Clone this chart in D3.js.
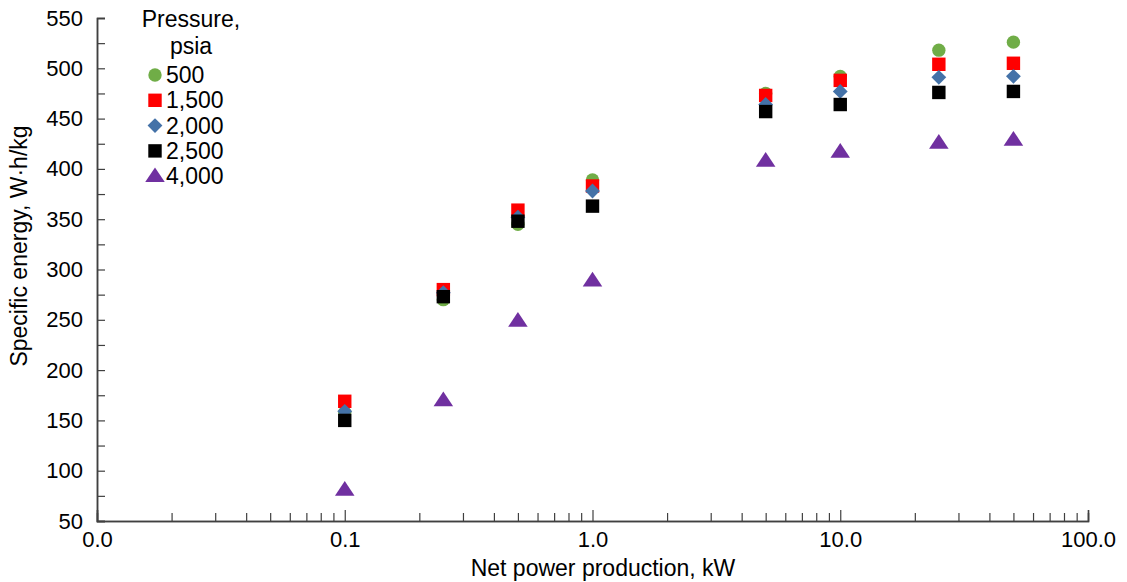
<!DOCTYPE html>
<html>
<head>
<meta charset="utf-8">
<script src="https://cdn.jsdelivr.net/npm/d3@7"></script>
<style>
  body { margin: 0; background: #fff; }
  svg { display: block; font-family: "Liberation Sans", Arial, sans-serif; }
</style>
</head>
<body>
<svg id="chart" width="1127" height="582"></svg>
<script>
const powerKW = [0.1, 0.25, 0.5, 1, 5, 10, 25, 50];
const p500  = [158, 270, 345, 389, 475, 492, 518, 526];
const p1500 = [169, 280, 359, 383, 473, 488, 504, 505];
const p2000 = [159, 277, 352, 378, 464, 477, 491, 492];
const p2500 = [150, 273, 348, 363, 457, 464, 476, 477];
const p4000 = [81, 170, 249, 289, 408, 417, 426, 429];
const seriesNames = ["500", "1,500", "2,000", "2,500", "4,000"];
const seriesColors = ["#70ad47", "#ff0000", "#4472a8", "#000000", "#7030a0"];
const seriesShapes = ["circle", "square", "diamond", "square", "triangle"];
const xTickValues = [0.01, 0.1, 1, 10, 100];
const yTickValues = [50, 100, 150, 200, 250, 300, 350, 400, 450, 500, 550];
const seriesValues = [p500, p1500, p2000, p2500, p4000];

const svg = d3.select("#chart");
const m = { left: 97, right: 1088, top: 18, bottom: 521 };
const x = d3.scaleLog().domain([0.01, 100]).range([m.left, m.right]);
const y = d3.scaleLinear().domain([50, 550]).range([m.bottom, m.top]);
const axisColor = "#404040";
const tickFont = 22, titleFont = 23;

// minor x ticks
const xMinor = [];
[0.01, 0.1, 1, 10].forEach(d => { for (let k = 2; k <= 9; k++) xMinor.push(d * k); });
const xAxisMinor = d3.axisBottom(x).tickValues(xMinor).tickSize(-8).tickFormat("");
const xAxis = d3.axisBottom(x).tickValues(xTickValues).tickSize(-11).tickPadding(10)
  .tickFormat(d3.format(".1f"));

const gxm = svg.append("g").attr("transform", `translate(0,${m.bottom})`).call(xAxisMinor);
const gx = svg.append("g").attr("transform", `translate(0,${m.bottom})`).call(xAxis);
[gxm, gx].forEach(g => {
  g.select(".domain").attr("stroke", axisColor).attr("stroke-width", 1.5);
  g.selectAll(".tick line").attr("stroke", axisColor).attr("stroke-width", 1.2);
});
gx.selectAll(".tick text").attr("font-size", tickFont).attr("fill", "#000")
  .attr("font-family", "Liberation Sans, Arial, sans-serif");

const yMinor = d3.range(75, 550, 50);
const yAxisMinor = d3.axisLeft(y).tickValues(yMinor).tickSize(-8).tickFormat("");
const yAxis = d3.axisLeft(y).tickValues(yTickValues).tickSize(-8).tickPadding(14);
const gym = svg.append("g").attr("transform", `translate(${m.left},0)`).call(yAxisMinor);
const gy = svg.append("g").attr("transform", `translate(${m.left},0)`).call(yAxis);
[gym, gy].forEach(g => {
  g.select(".domain").attr("stroke", axisColor).attr("stroke-width", 1.5);
  g.selectAll(".tick line").attr("stroke", axisColor).attr("stroke-width", 1.2);
});
gy.selectAll(".tick text").attr("font-size", tickFont).attr("fill", "#000")
  .attr("font-family", "Liberation Sans, Arial, sans-serif");

// axis titles
svg.append("text").attr("x", 603).attr("y", 576)
  .attr("text-anchor", "middle").attr("font-size", titleFont).text("Net power production, kW");
svg.append("text").attr("transform", `translate(27,246) rotate(-90)`)
  .attr("text-anchor", "middle").attr("font-size", titleFont).text("Specific energy, W·h/kg");

const sym = {
  circle: d3.symbol().type(d3.symbolCircle).size(140),
  square: d3.symbol().type(d3.symbolSquare).size(180),
  diamond: d3.symbol().type(d3.symbolSquare).size(110),
  triangle: d3.symbol().type(d3.symbolTriangle).size(125)
};
function drawMarker(g, shape, color, cx, cy) {
  const p = g.append("path").attr("d", sym[shape]()).attr("fill", color);
  if (shape === "diamond") p.attr("transform", `translate(${cx},${cy}) rotate(45)`);
  else if (shape === "triangle") p.attr("transform", `translate(${cx},${cy + 1}) scale(1.15,1)`);
  else p.attr("transform", `translate(${cx},${cy})`);
}

const plot = svg.append("g");
seriesValues.forEach((vals, si) => {
  vals.forEach((v, i) => drawMarker(plot, seriesShapes[si], seriesColors[si], x(powerKW[i]), y(v)));
});

// legend
const lg = svg.append("g");
lg.append("text").attr("x", 191).attr("y", 27).attr("text-anchor", "middle").attr("font-size", titleFont).text("Pressure,");
lg.append("text").attr("x", 191).attr("y", 54).attr("text-anchor", "middle").attr("font-size", titleFont).text("psia");
seriesNames.forEach((name, i) => {
  const cy = 75 + i * 25.3;
  drawMarker(lg, seriesShapes[i], seriesColors[i], 155, cy);
  lg.append("text").attr("x", 166).attr("y", cy + 8).attr("font-size", titleFont).text(name);
});
</script>
</body>
</html>
